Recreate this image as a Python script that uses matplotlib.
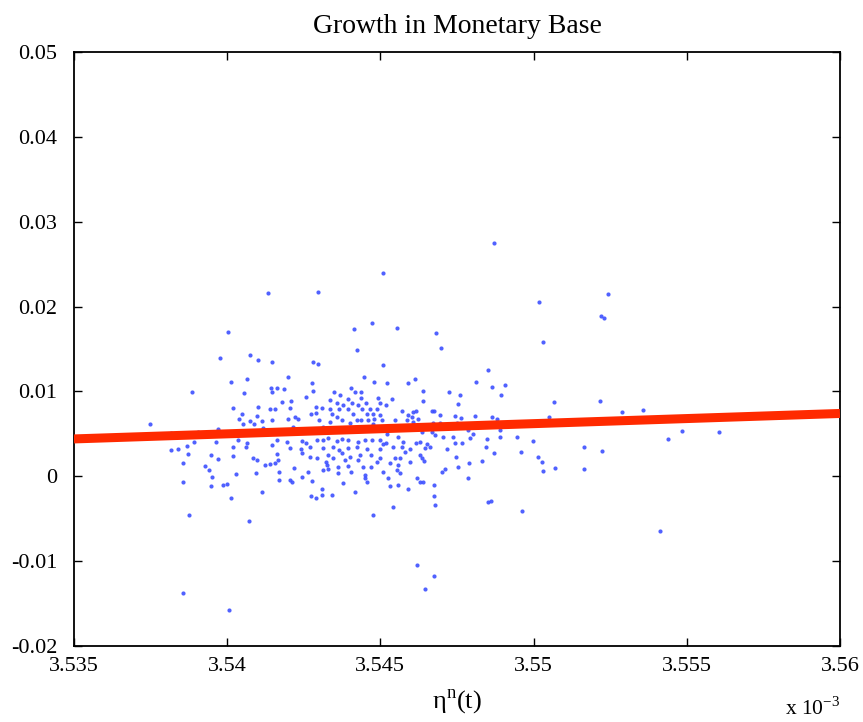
import matplotlib
matplotlib.use("Agg")
import matplotlib.pyplot as plt

# eta^n(t) in units of 1e-3, growth in monetary base
eta = [
    # upper left part of the cloud
    3.54002, 3.53977, 3.54074, 3.54102, 3.54145, 3.54012, 3.54064, 3.53886,
    3.54056, 3.54143, 3.54145, 3.54162, 3.54018, 3.54047, 3.54102, 3.54140,
    3.54156, 3.54098, 3.54040, 3.54074, 3.54113, 3.54145, 3.54053, 3.54088,
    # upper middle
    3.54414, 3.54474, 3.54555, 3.54423, 3.54281, 3.54295, 3.54510, 3.54199,
    3.54447, 3.54276, 3.54480, 3.54523, 3.54185, 3.54281, 3.54403, 3.54417,
    3.54437, 3.54350, 3.54257, 3.54368, 3.54336, 3.54395, 3.54436, 3.54493,
    3.54537, 3.54178, 3.54208, 3.54357, 3.54379, 3.54406, 3.54428, 3.54453,
    3.54499, 3.54518, 3.54290, 3.54308, 3.54205, 3.54336, 3.54366, 3.54395,
    3.54439, 3.54466, 3.54488, 3.54273, 3.54290, 3.54341, 3.54410, 3.54455,
    3.54477, 3.54499, 3.54199, 3.54221, 3.54232, 3.54301, 3.54357, 3.54374,
    3.54423, 3.54437, 3.54461, 3.54480, 3.54504, 3.54548, 3.54336, 3.54401,
    3.54477,
    # upper right
    3.54681, 3.54698, 3.54852, 3.54812, 3.54591, 3.54613, 3.54863, 3.54907,
    3.54638, 3.54724, 3.54760, 3.54894, 3.54640, 3.54754, 3.54570, 3.54607,
    3.54616, 3.54667, 3.54675, 3.54695, 3.54591, 3.54602, 3.54744, 3.54763,
    3.54809, 3.54863, 3.54880, 3.54586, 3.54624, 3.54607, 3.54673, 3.54695,
    3.54749,
    # lower left
    3.53817, 3.53904, 3.53971, 3.54118, 3.54036, 3.54066, 3.54062, 3.53893,
    3.53963, 3.54018, 3.53868, 3.53817, 3.53840, 3.53873, 3.54018, 3.54145,
    3.54164, 3.53946, 3.53969, 3.54085, 3.54096, 3.54164, 3.54167, 3.53855,
    3.53928, 3.53942, 3.54123, 3.54140, 3.54156, 3.54029, 3.54093, 3.53949,
    3.54170, 3.53855, 3.53947, 3.53985, 3.54000, 3.54170, 3.54113, 3.54012,
    3.53875, 3.54072,
    # lower middle
    3.54216, 3.54314, 3.54521, 3.54558, 3.54194, 3.54243, 3.54257, 3.54292,
    3.54314, 3.54330, 3.54357, 3.54374, 3.54395, 3.54428, 3.54450, 3.54472,
    3.54499, 3.54518, 3.54205, 3.54241, 3.54270, 3.54314, 3.54346, 3.54366,
    3.54395, 3.54423, 3.54457, 3.54499, 3.54510, 3.54542, 3.54243, 3.54270,
    3.54292, 3.54330, 3.54346, 3.54374, 3.54401, 3.54433, 3.54468, 3.54499,
    3.54548, 3.54322, 3.54385, 3.54428, 3.54488, 3.54531, 3.54325, 3.54363,
    3.54395, 3.54444, 3.54468, 3.54558, 3.54218, 3.54265, 3.54314, 3.54330,
    3.54363, 3.54403, 3.54450, 3.54510, 3.54553, 3.54205, 3.54210, 3.54243,
    3.54276, 3.54450, 3.54455, 3.54526, 3.54379, 3.54531, 3.54558, 3.54308,
    3.54273, 3.54290, 3.54308, 3.54341, 3.54417, 3.54542, 3.54477,
    # lower right
    3.54635, 3.54667, 3.54787, 3.54890, 3.54678, 3.54705, 3.54738, 3.54792,
    3.54803, 3.54849, 3.54890, 3.54945, 3.54575, 3.54616, 3.54629, 3.54653,
    3.54662, 3.54744, 3.54767, 3.54570, 3.54597, 3.54646, 3.54716, 3.54845,
    3.54871, 3.54958, 3.54580, 3.54629, 3.54635, 3.54642, 3.54747, 3.54831,
    3.54790, 3.54564, 3.54597, 3.54754, 3.54700, 3.54711, 3.54564, 3.54619,
    3.54787, 3.54629, 3.54640, 3.54676, 3.54591, 3.54676, 3.54677, 3.54850,
    3.54860, 3.54961,
    # right tail
    3.55067, 3.55217, 3.55288, 3.55358, 3.55051, 3.54999, 3.55483, 3.55606,
    3.55438, 3.55166, 3.55224, 3.55015, 3.55026, 3.55031, 3.55070, 3.55165,
    # outliers
    3.54871, 3.54508, 3.54133, 3.54296, 3.55018, 3.55243, 3.55220, 3.55230,
    3.55031, 3.53748, 3.53856, 3.54006, 3.54620, 3.54675, 3.54646, 3.55412,
]

growth = [
    0.01697, 0.01391, 0.01429, 0.01370, 0.01343, 0.01115, 0.01143, 0.00997,
    0.00978, 0.01037, 0.00997, 0.01037, 0.00808, 0.00734, 0.00820, 0.00793,
    0.00790, 0.00711, 0.00672, 0.00655, 0.00655, 0.00663, 0.00616, 0.00616,
    0.01732, 0.01810, 0.01751, 0.01488, 0.01343, 0.01323, 0.01312, 0.01174,
    0.01174, 0.01103, 0.01111, 0.01103, 0.01032, 0.01005, 0.01037, 0.00997,
    0.00997, 0.00997, 0.00938, 0.00958, 0.00899, 0.00911, 0.00919, 0.00919,
    0.00911, 0.00879, 0.00887, 0.00867, 0.00840, 0.00860, 0.00840, 0.00860,
    0.00860, 0.00840, 0.00820, 0.00801, 0.00808, 0.00790, 0.00790, 0.00790,
    0.00790, 0.00790, 0.00790, 0.00731, 0.00742, 0.00734, 0.00734, 0.00734,
    0.00734, 0.00722, 0.00672, 0.00702, 0.00672, 0.00663, 0.00702, 0.00663,
    0.00663, 0.00663, 0.00663, 0.00672, 0.00663, 0.00663, 0.00643, 0.00625,
    0.00616,
    0.01685, 0.01515, 0.01253, 0.01115, 0.01103, 0.01147, 0.01049, 0.01076,
    0.01005, 0.00990, 0.00958, 0.00958, 0.00887, 0.00852, 0.00773, 0.00761,
    0.00773, 0.00773, 0.00773, 0.00722, 0.00722, 0.00702, 0.00714, 0.00683,
    0.00711, 0.00702, 0.00672, 0.00663, 0.00675, 0.00643, 0.00625, 0.00625,
    0.00625,
    0.00507, 0.00526, 0.00557, 0.00573, 0.00428, 0.00389, 0.00349, 0.00401,
    0.00401, 0.00349, 0.00361, 0.00310, 0.00322, 0.00263, 0.00239, 0.00369,
    0.00428, 0.00251, 0.00200, 0.00212, 0.00192, 0.00259, 0.00192, 0.00153,
    0.00125, 0.00074, 0.00133, 0.00141, 0.00153, 0.00027, 0.00035, -0.00012,
    0.00054, -0.00071, -0.00111, -0.00103, -0.00094, -0.00044, -0.00189, -0.00259,
    -0.00456, -0.00523,
    0.00584, 0.00584, 0.00495, 0.00467, 0.00408, 0.00416, 0.00389, 0.00428,
    0.00428, 0.00448, 0.00416, 0.00440, 0.00428, 0.00408, 0.00428, 0.00428,
    0.00428, 0.00389, 0.00337, 0.00322, 0.00349, 0.00337, 0.00349, 0.00310,
    0.00337, 0.00349, 0.00322, 0.00322, 0.00377, 0.00349, 0.00271, 0.00231,
    0.00212, 0.00251, 0.00212, 0.00271, 0.00231, 0.00251, 0.00251, 0.00219,
    0.00212, 0.00172, 0.00192, 0.00192, 0.00172, 0.00153, 0.00133, 0.00113,
    0.00125, 0.00113, 0.00113, 0.00133, 0.00094, 0.00047, 0.00074, 0.00086,
    0.00035, 0.00054, 0.00015, 0.00054, 0.00074, -0.00044, -0.00064, -0.00012,
    -0.00055, -0.00024, -0.00064, -0.00024, -0.00082, -0.00111, -0.00103, -0.00150,
    -0.00229, -0.00252, -0.00220, -0.00220, -0.00181, -0.00358, -0.00456,
    0.00519, 0.00526, 0.00546, 0.00546, 0.00487, 0.00467, 0.00467, 0.00448,
    0.00495, 0.00440, 0.00467, 0.00460, 0.00408, 0.00389, 0.00401, 0.00377,
    0.00349, 0.00389, 0.00389, 0.00349, 0.00322, 0.00330, 0.00322, 0.00349,
    0.00271, 0.00283, 0.00290, 0.00251, 0.00212, 0.00180, 0.00224, 0.00180,
    0.00153, 0.00212, 0.00165, 0.00113, 0.00054, 0.00082, 0.00035, -0.00016,
    -0.00016, -0.00071, -0.00064, -0.00103, -0.00150, -0.00229, -0.00338, -0.00306,
    -0.00291, -0.00405,
    0.00879, 0.00891, 0.00761, 0.00781, 0.00695, 0.00416, 0.00534, 0.00526,
    0.00440, 0.00349, 0.00302, 0.00231, 0.00172, 0.00062, 0.00094, 0.00082,
    0.02749, 0.02396, 0.02160, 0.02172, 0.02054, 0.02148, 0.01889, 0.01866,
    0.01583, 0.00616, -0.01375, -0.01576, -0.01045, -0.01175, -0.01328, -0.00645,
]

# fitted line, end points
fit_x = [3.535, 3.56]
fit_y = [0.0044, 0.0074]

xticks = [3.535, 3.54, 3.545, 3.55, 3.555, 3.56]
xticklabels = ["3.535", "3.54", "3.545", "3.55", "3.555", "3.56"]
yticks = [-0.02, -0.01, 0, 0.01, 0.02, 0.03, 0.04, 0.05]
yticklabels = ["-0.02", "-0.01", "0", "0.01", "0.02", "0.03", "0.04", "0.05"]

plt.rcParams['font.family'] = ['Liberation Serif', 'DejaVu Serif']
plt.rcParams['mathtext.fontset'] = 'custom'
plt.rcParams['mathtext.rm'] = 'Liberation Serif'

fig = plt.figure(figsize=(8.63, 7.22), dpi=100)
ax = fig.add_axes([0.0857, 0.1053, 0.8876, 0.8227])

ax.plot(eta, growth, linestyle='none', marker='o', markersize=3.0,
        color='#3d50ff', markeredgewidth=0, alpha=0.9, zorder=2)
ax.plot(fit_x, fit_y, color='#ff2a00', linewidth=6.5, solid_capstyle='butt', zorder=3)

ax.set_xlim(3.535, 3.56)
ax.set_ylim(-0.02, 0.05)
ax.set_xticks(xticks)
ax.set_xticklabels(xticklabels)
ax.set_yticks(yticks)
ax.set_yticklabels(yticklabels)
ax.tick_params(direction='in', length=6, width=1, top=True, right=True,
               labelsize=16, colors='black')
ax.tick_params(axis='y', pad=12)
ax.tick_params(axis='x', pad=8)
for s in ax.spines.values():
    s.set_linewidth(1.3)

ax.set_title("Growth in Monetary Base", fontsize=20, pad=14)
ax.set_xlabel(r"η$^{\mathrm{n}}$(t)", fontsize=19, labelpad=8)
ax.text(1.0, -0.105, r"x 10$^{-3}$", transform=ax.transAxes, ha='right',
        va='center', fontsize=15.5)

fig.savefig("out.png", dpi=100)
